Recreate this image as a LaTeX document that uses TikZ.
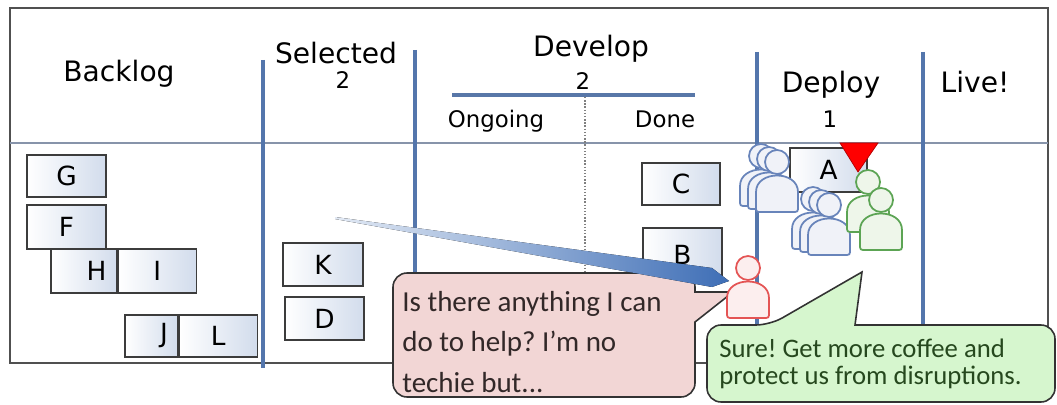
\documentclass[tikz,border=0pt]{standalone}
\usepackage{fontspec}
\setmainfont{DejaVu Sans}
\newfontfamily\talkfont{Carlito}
\usetikzlibrary{positioning}
\frenchspacing

\definecolor{laneblue}{RGB}{84,118,172}
\definecolor{framegray}{RGB}{80,80,80}
\definecolor{rulegray}{RGB}{135,148,170}
\definecolor{cardblue}{RGB}{210,220,236}
\definecolor{cardline}{RGB}{60,60,60}
\definecolor{askfill}{RGB}{242,214,213}
\definecolor{asktext}{RGB}{50,40,40}
\definecolor{replyfill}{RGB}{214,246,206}
\definecolor{replytext}{RGB}{38,72,30}
\definecolor{devblue}{RGB}{104,132,186}
\definecolor{devfill}{RGB}{240,242,248}
\definecolor{opsgreen}{RGB}{92,164,84}
\definecolor{opsfill}{RGB}{238,246,234}
\definecolor{mgrred}{RGB}{228,84,84}
\definecolor{mgrfill}{RGB}{252,238,238}
\definecolor{hintblue}{RGB}{62,110,182}

\tikzset{
  lane/.style={draw=laneblue, line width=1.8pt},
  card/.style={draw=cardline, line width=0.7pt, left color=white, right color=cardblue,
    inner sep=0pt, minimum width=1.58cm, minimum height=0.84cm, font=\fontsize{15}{18}\selectfont},
  colhead/.style={anchor=base, inner sep=0pt, font=\fontsize{16}{19}\selectfont},
  wip/.style={anchor=base, inner sep=0pt, font=\fontsize{13}{15}\selectfont},
  subhead/.style={anchor=base, font=\fontsize{13}{16}\selectfont},
  talk/.style={draw=black!80, line width=0.9pt},
  person/.pic={
    % shoulders, then the head on top
    \path[pic actions] (-21,44) -- (-21,30) .. controls (-21,8) and (21,8) .. (21,30) -- (21,44)
      .. controls (21,50) .. (15,50) -- (-15,50) .. controls (-21,50) .. (-21,44) -- cycle;
    \path[pic actions] (0,0) circle[radius=12];
  }
}

\begin{document}
\begin{tikzpicture}[x=0.02cm, y=-0.02cm]
\useasboundingbox (0,0) rectangle (1057,405);

% board
\draw[framegray, line width=1.1pt] (10,8) rectangle (1048,363);
\draw[rulegray, line width=0.6pt] (10,143) -- (1048,143);
\foreach \x/\top/\bot in {263/60/368, 415/50/363, 757/52/363, 923/52/363}
    \draw[lane] (\x,\top) -- (\x,\bot);
\draw[laneblue!90!gray, line width=2.2pt] (452,95) -- (695,95);
\draw[gray, densely dotted, line width=0.8pt] (585,97) -- (585,363);

% column titles
\node[colhead] (backlog) at (119,82) {Backlog};
\node[colhead] (selected) at (336,64) {Selected};
\node[wip] (selwip) at (343,89) {2};
\node[colhead] (develop) at (591,57) {Develop};
\node[wip] (devwip) at (583,90) {2};
\node[subhead] (ongoing) at (496,128) {Ongoing};
\node[subhead] (done) at (665,128) {Done};
\node[colhead] (deploy) at (831,93) {Deploy};
\node[wip] (depwip) at (830,128) {1};
\node[colhead] (live) at (975,93) {Live!};

% cards
\node[card] (G) at (66.5,176) {G};
\node[card, minimum height=0.88cm] (F) at (66.5,227) {F};
\node[card, minimum width=1.32cm, minimum height=0.88cm, text width=0.9cm, align=right] (H) at (84,271) {H};
\node[card, minimum width=1.56cm, minimum height=0.88cm, anchor=west] (I) at (H.east) {I};
\node[card, minimum width=1.06cm, text width=0.66cm, align=right] (J) at (151.5,336) {J};
\node[card, minimum width=1.56cm, anchor=west] (L) at (J.east) {L};
\node[card, minimum width=1.6cm, minimum height=0.86cm] (K) at (323,264.5) {K};
\node[card, minimum height=0.86cm] (D) at (324.5,318.5) {D};
\node[card, minimum width=1.56cm] (C) at (681,184) {C};
\node[card, minimum height=1.08cm] (B) at (682.5,255) {B};
\node[card, minimum width=1.54cm, minimum height=0.88cm] (A) at (828.5,170) {A};

% team swarming on A
\foreach \dx/\dy in {-16/-6, -8/-3, 0/0} {
    \pic[draw=devblue, fill=devfill, line width=1pt] at (777+\dx,162+\dy) {person};
    \pic[draw=devblue, fill=devfill, line width=1pt] at (829+\dx,205+\dy) {person};
}
\pic[draw=opsgreen, fill=opsfill, line width=1pt] at (868,182) {person};
\pic[draw=opsgreen, fill=opsfill, line width=1pt] at (881,200) {person};
\draw[red!70!black, fill=red, line width=0.4pt] (840,143) -- (878,143) -- (858,172) -- cycle;

% speech bubbles
\draw[talk, fill=askfill] (393,340) [rounded corners=8pt] -- (393,273) -- (695,273)
    [sharp corners] -- (695,292) -- (733,292) -- (695,322)
    [rounded corners=8pt] -- (695,397) -- (393,397) -- cycle;
\node[anchor=west, inner sep=0pt, align=left, text=asktext,
      font=\talkfont\fontsize{16.5}{23.3}\selectfont] (ask) at (402,342)
    {Is there anything I can\\do to help? I’m no\\techie but...};

\draw[talk, fill=replyfill] (707,365) [rounded corners=8pt] -- (707,325) -- (770,325)
    [sharp corners] -- (862,272) -- (855,325)
    [rounded corners=8pt] -- (1055,325) -- (1055,402) -- (707,402) -- cycle;
\node[anchor=west, inner sep=0pt, align=left, text=replytext,
      font=\talkfont\fontsize{15.2}{15.6}\selectfont] (reply) at (719,364)
    {Sure! Get more coffee and\\protect us from disruptions.};

% the manager walking over
\coordinate (hint) at (335,217);
\fill[left color=hintblue!15, right color=hintblue] (hint) -- (712,268) -- (729,281) -- (712,287) -- (335,219) -- cycle;
\pic[draw=mgrred, fill=mgrfill, line width=1pt] at (748,268) {person};
\end{tikzpicture}
\end{document}
